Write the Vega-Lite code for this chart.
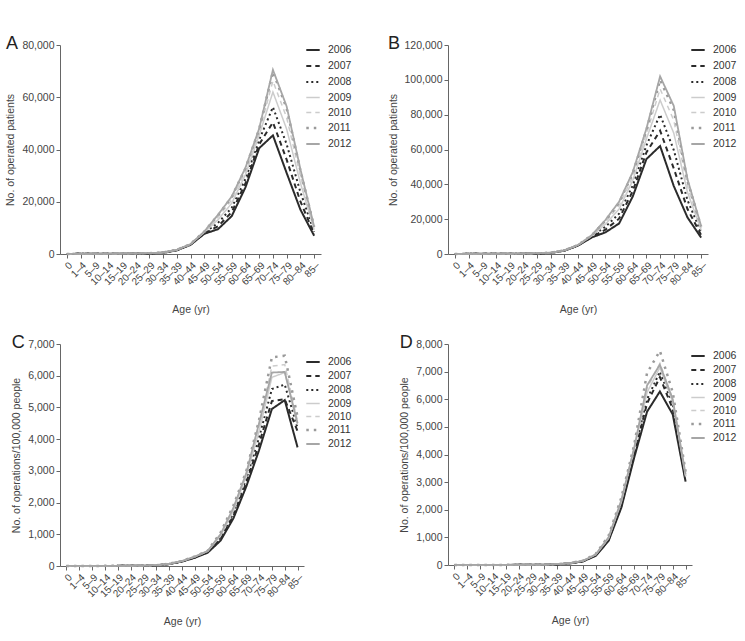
{
"$schema":"https://vega.github.io/schema/vega-lite/v6.json",
"padding":{"left":5,"top":35,"right":5,"bottom":5},
"background":"white",
"columns":2,
"spacing":{"row":18,"column":36},
"resolve":{"scale":{"color":"independent","strokeDash":"independent","strokeWidth":"independent","x":"independent","y":"independent"},"legend":{"color":"independent","strokeDash":"independent","strokeWidth":"independent"}},
"datasets":{"d":[
{"age":"0","year":"2006","A":30,"B":40,"C":2,"D":2},
{"age":"1–4","year":"2006","A":60,"B":80,"C":3,"D":2},
{"age":"5–9","year":"2006","A":50,"B":70,"C":2,"D":2},
{"age":"10–14","year":"2006","A":80,"B":110,"C":3,"D":3},
{"age":"15–19","year":"2006","A":130,"B":170,"C":4,"D":4},
{"age":"20–24","year":"2006","A":170,"B":220,"C":6,"D":5},
{"age":"25–29","year":"2006","A":250,"B":330,"C":10,"D":8},
{"age":"30–34","year":"2006","A":450,"B":600,"C":20,"D":12},
{"age":"35–39","year":"2006","A":1400,"B":1900,"C":60,"D":25},
{"age":"40–44","year":"2006","A":3500,"B":4800,"C":140,"D":60},
{"age":"45–49","year":"2006","A":7700,"B":9500,"C":260,"D":130},
{"age":"50–54","year":"2006","A":9500,"B":12400,"C":420,"D":330},
{"age":"55–59","year":"2006","A":14500,"B":17500,"C":800,"D":870},
{"age":"60–64","year":"2006","A":25500,"B":33000,"C":1500,"D":2080},
{"age":"65–69","year":"2006","A":40500,"B":54500,"C":2500,"D":3890},
{"age":"70–74","year":"2006","A":45400,"B":62000,"C":3650,"D":5550},
{"age":"75–79","year":"2006","A":31000,"B":39000,"C":4950,"D":6280},
{"age":"80–84","year":"2006","A":17000,"B":21000,"C":5230,"D":5450},
{"age":"85–","year":"2006","A":7000,"B":9400,"C":3740,"D":3020},
{"age":"0","year":"2007","A":32,"B":42,"C":2,"D":2},
{"age":"1–4","year":"2007","A":64,"B":84,"C":3,"D":2},
{"age":"5–9","year":"2007","A":54,"B":74,"C":2,"D":2},
{"age":"10–14","year":"2007","A":85,"B":116,"C":3,"D":3},
{"age":"15–19","year":"2007","A":135,"B":178,"C":4,"D":4},
{"age":"20–24","year":"2007","A":180,"B":232,"C":6,"D":5},
{"age":"25–29","year":"2007","A":260,"B":350,"C":10,"D":8},
{"age":"30–34","year":"2007","A":470,"B":630,"C":22,"D":12},
{"age":"35–39","year":"2007","A":1440,"B":1950,"C":62,"D":26},
{"age":"40–44","year":"2007","A":3560,"B":4880,"C":145,"D":62},
{"age":"45–49","year":"2007","A":7880,"B":9790,"C":270,"D":135},
{"age":"50–54","year":"2007","A":10600,"B":13960,"C":440,"D":345},
{"age":"55–59","year":"2007","A":16000,"B":20250,"C":850,"D":900},
{"age":"60–64","year":"2007","A":27000,"B":36080,"C":1580,"D":2150},
{"age":"65–69","year":"2007","A":42000,"B":58350,"C":2620,"D":4000},
{"age":"70–74","year":"2007","A":50400,"B":70800,"C":3850,"D":5850},
{"age":"75–79","year":"2007","A":36100,"B":49100,"C":5200,"D":6800},
{"age":"80–84","year":"2007","A":20100,"B":25840,"C":5260,"D":5650},
{"age":"85–","year":"2007","A":7700,"B":10850,"C":4250,"D":3100},
{"age":"0","year":"2008","A":34,"B":44,"C":2,"D":2},
{"age":"1–4","year":"2008","A":68,"B":88,"C":3,"D":2},
{"age":"5–9","year":"2008","A":58,"B":78,"C":2,"D":2},
{"age":"10–14","year":"2008","A":90,"B":122,"C":3,"D":3},
{"age":"15–19","year":"2008","A":142,"B":188,"C":4,"D":4},
{"age":"20–24","year":"2008","A":190,"B":245,"C":7,"D":5},
{"age":"25–29","year":"2008","A":280,"B":370,"C":11,"D":8},
{"age":"30–34","year":"2008","A":490,"B":660,"C":23,"D":13},
{"age":"35–39","year":"2008","A":1490,"B":2000,"C":64,"D":27},
{"age":"40–44","year":"2008","A":3630,"B":4970,"C":150,"D":64},
{"age":"45–49","year":"2008","A":8090,"B":10090,"C":280,"D":140},
{"age":"50–54","year":"2008","A":11870,"B":15600,"C":455,"D":360},
{"age":"55–59","year":"2008","A":17700,"B":23130,"C":900,"D":930},
{"age":"60–64","year":"2008","A":28700,"B":39300,"C":1660,"D":2220},
{"age":"65–69","year":"2008","A":43700,"B":62380,"C":2740,"D":4100},
{"age":"70–74","year":"2008","A":56200,"B":80000,"C":4050,"D":6000},
{"age":"75–79","year":"2008","A":42000,"B":59700,"C":5580,"D":7000},
{"age":"80–84","year":"2008","A":23700,"B":30900,"C":5720,"D":5800},
{"age":"85–","year":"2008","A":8500,"B":12370,"C":4350,"D":3150},
{"age":"0","year":"2009","A":36,"B":46,"C":3,"D":2},
{"age":"1–4","year":"2009","A":72,"B":92,"C":3,"D":3},
{"age":"5–9","year":"2009","A":62,"B":82,"C":2,"D":2},
{"age":"10–14","year":"2009","A":96,"B":128,"C":3,"D":3},
{"age":"15–19","year":"2009","A":150,"B":196,"C":5,"D":4},
{"age":"20–24","year":"2009","A":200,"B":258,"C":7,"D":6},
{"age":"25–29","year":"2009","A":290,"B":390,"C":11,"D":9},
{"age":"30–34","year":"2009","A":510,"B":690,"C":24,"D":13},
{"age":"35–39","year":"2009","A":1530,"B":2040,"C":66,"D":28},
{"age":"40–44","year":"2009","A":3700,"B":5060,"C":152,"D":66},
{"age":"45–49","year":"2009","A":8290,"B":10360,"C":290,"D":145},
{"age":"50–54","year":"2009","A":13100,"B":17090,"C":465,"D":370},
{"age":"55–59","year":"2009","A":19400,"B":25750,"C":950,"D":960},
{"age":"60–64","year":"2009","A":30400,"B":42240,"C":1740,"D":2280},
{"age":"65–69","year":"2009","A":45500,"B":66050,"C":2830,"D":4200},
{"age":"70–74","year":"2009","A":62000,"B":88400,"C":4250,"D":6250},
{"age":"75–79","year":"2009","A":47800,"B":69360,"C":5950,"D":7150},
{"age":"80–84","year":"2009","A":27200,"B":35520,"C":6100,"D":5900},
{"age":"85–","year":"2009","A":9300,"B":13760,"C":4450,"D":3200},
{"age":"0","year":"2010","A":38,"B":48,"C":3,"D":2},
{"age":"1–4","year":"2010","A":76,"B":96,"C":4,"D":3},
{"age":"5–9","year":"2010","A":66,"B":86,"C":3,"D":2},
{"age":"10–14","year":"2010","A":104,"B":134,"C":4,"D":3},
{"age":"15–19","year":"2010","A":160,"B":203,"C":5,"D":4},
{"age":"20–24","year":"2010","A":210,"B":268,"C":7,"D":6},
{"age":"25–29","year":"2010","A":305,"B":405,"C":12,"D":9},
{"age":"30–34","year":"2010","A":530,"B":720,"C":24,"D":14},
{"age":"35–39","year":"2010","A":1570,"B":2070,"C":68,"D":29},
{"age":"40–44","year":"2010","A":3750,"B":5130,"C":155,"D":68},
{"age":"45–49","year":"2010","A":8450,"B":10570,"C":295,"D":150},
{"age":"50–54","year":"2010","A":14100,"B":18220,"C":470,"D":380},
{"age":"55–59","year":"2010","A":20700,"B":27750,"C":990,"D":990},
{"age":"60–64","year":"2010","A":31700,"B":44480,"C":1800,"D":2330},
{"age":"65–69","year":"2010","A":46700,"B":68850,"C":2900,"D":4250},
{"age":"70–74","year":"2010","A":66200,"B":94800,"C":4400,"D":6400},
{"age":"75–79","year":"2010","A":52200,"B":76720,"C":6300,"D":7300},
{"age":"80–84","year":"2010","A":29900,"B":39040,"C":6350,"D":6000},
{"age":"85–","year":"2010","A":9900,"B":14810,"C":4550,"D":3250},
{"age":"0","year":"2011","A":40,"B":50,"C":3,"D":3},
{"age":"1–4","year":"2011","A":80,"B":100,"C":4,"D":3},
{"age":"5–9","year":"2011","A":70,"B":90,"C":3,"D":2},
{"age":"10–14","year":"2011","A":110,"B":140,"C":4,"D":3},
{"age":"15–19","year":"2011","A":168,"B":208,"C":5,"D":5},
{"age":"20–24","year":"2011","A":218,"B":276,"C":8,"D":6},
{"age":"25–29","year":"2011","A":318,"B":416,"C":12,"D":9},
{"age":"30–34","year":"2011","A":548,"B":742,"C":25,"D":14},
{"age":"35–39","year":"2011","A":1600,"B":2090,"C":70,"D":30},
{"age":"40–44","year":"2011","A":3790,"B":5180,"C":160,"D":70},
{"age":"45–49","year":"2011","A":8570,"B":10740,"C":300,"D":155},
{"age":"50–54","year":"2011","A":14800,"B":19150,"C":480,"D":395},
{"age":"55–59","year":"2011","A":21800,"B":29380,"C":1050,"D":1050},
{"age":"60–64","year":"2011","A":32800,"B":46300,"C":1900,"D":2440},
{"age":"65–69","year":"2011","A":47800,"B":71130,"C":2980,"D":4350},
{"age":"70–74","year":"2011","A":69800,"B":100000,"C":4600,"D":6950},
{"age":"75–79","year":"2011","A":55700,"B":82700,"C":6580,"D":7750},
{"age":"80–84","year":"2011","A":32000,"B":41900,"C":6630,"D":6250},
{"age":"85–","year":"2011","A":10400,"B":15670,"C":4700,"D":3380},
{"age":"0","year":"2012","A":40,"B":50,"C":3,"D":2},
{"age":"1–4","year":"2012","A":80,"B":100,"C":4,"D":3},
{"age":"5–9","year":"2012","A":70,"B":90,"C":3,"D":2},
{"age":"10–14","year":"2012","A":110,"B":140,"C":4,"D":3},
{"age":"15–19","year":"2012","A":170,"B":210,"C":5,"D":4},
{"age":"20–24","year":"2012","A":220,"B":280,"C":8,"D":6},
{"age":"25–29","year":"2012","A":320,"B":420,"C":12,"D":9},
{"age":"30–34","year":"2012","A":550,"B":750,"C":25,"D":14},
{"age":"35–39","year":"2012","A":1600,"B":2100,"C":70,"D":29},
{"age":"40–44","year":"2012","A":3800,"B":5200,"C":158,"D":68},
{"age":"45–49","year":"2012","A":8600,"B":10800,"C":298,"D":150},
{"age":"50–54","year":"2012","A":15000,"B":19500,"C":475,"D":385},
{"age":"55–59","year":"2012","A":22000,"B":30000,"C":1000,"D":1000},
{"age":"60–64","year":"2012","A":33000,"B":47000,"C":1830,"D":2350},
{"age":"65–69","year":"2012","A":48000,"B":72000,"C":2920,"D":4250},
{"age":"70–74","year":"2012","A":70500,"B":102000,"C":4500,"D":6500},
{"age":"75–79","year":"2012","A":56500,"B":85000,"C":6100,"D":7250},
{"age":"80–84","year":"2012","A":32500,"B":43000,"C":6120,"D":6000},
{"age":"85–","year":"2012","A":10500,"B":16000,"C":4500,"D":3280}
]},
"concat":[
{"width":261,"height":209,"data":{"name":"d"},
 "title":{"text":"A","anchor":"start","frame":"bounds","fontSize":18,"fontWeight":"normal","color":"#222","offset":0,"dy":13},
 "mark":{"type":"line"},
 "encoding":{
  "x":{"field":"age","type":"ordinal","scale":{"type":"point","domain":["0","1–4","5–9","10–14","15–19","20–24","25–29","30–34","35–39","40–44","45–49","50–54","55–59","60–64","65–69","70–74","75–79","80–84","85–"]},"axis":{"title":"Age (yr)","labelAngle":-45,"titlePadding":18}},
  "y":{"field":"A","type":"quantitative","scale":{"domain":[0,80000],"nice":false},"axis":{"title":"No. of operated patients","values":[0,20000,40000,60000,80000],"format":",d"}},
  "color":{"field":"year","type":"nominal","scale":{"domain":["2006","2007","2008","2009","2010","2011","2012"],"range":["#2b2b2b","#2b2b2b","#2b2b2b","#cccccc","#cccccc","#9a9a9a","#a6a6a6"]},"legend":{"orient":"none","legendX":245,"legendY":-3,"title":null,"symbolType":"stroke","symbolSize":180,"labelFontSize":10.5,"labelColor":"#333","rowPadding":2,"labelOffset":7}},
  "strokeDash":{"field":"year","type":"nominal","scale":{"domain":["2006","2007","2008","2009","2010","2011","2012"],"range":[[1,0],[5,4],[2,3],[1,0],[5,4],[2.5,5],[1,0]]},"legend":{"orient":"none","legendX":245,"legendY":-3,"title":null,"symbolType":"stroke","symbolSize":180,"labelFontSize":10.5,"labelColor":"#333","rowPadding":2,"labelOffset":7}},
  "strokeWidth":{"field":"year","type":"nominal","scale":{"type":"ordinal","domain":["2006","2007","2008","2009","2010","2011","2012"],"range":[2,2,2,1.5,1.5,2.5,1.8]},"legend":{"orient":"none","legendX":245,"legendY":-3,"title":null,"symbolType":"stroke","symbolSize":180,"labelFontSize":10.5,"labelColor":"#333","rowPadding":2,"labelOffset":7}}
 }},
{"width":260,"height":209,"data":{"name":"d"},
 "title":{"text":"B","anchor":"start","frame":"bounds","fontSize":18,"fontWeight":"normal","color":"#222","offset":0,"dy":13},
 "mark":{"type":"line"},
 "encoding":{
  "x":{"field":"age","type":"ordinal","scale":{"type":"point","domain":["0","1–4","5–9","10–14","15–19","20–24","25–29","30–34","35–39","40–44","45–49","50–54","55–59","60–64","65–69","70–74","75–79","80–84","85–"]},"axis":{"title":"Age (yr)","labelAngle":-45,"titlePadding":18}},
  "y":{"field":"B","type":"quantitative","scale":{"domain":[0,120000],"nice":false},"axis":{"title":"No. of operated patients","values":[0,20000,40000,60000,80000,100000,120000],"format":",d"}},
  "color":{"field":"year","type":"nominal","scale":{"domain":["2006","2007","2008","2009","2010","2011","2012"],"range":["#2b2b2b","#2b2b2b","#2b2b2b","#cccccc","#cccccc","#9a9a9a","#a6a6a6"]},"legend":{"orient":"none","legendX":242,"legendY":-3,"title":null,"symbolType":"stroke","symbolSize":180,"labelFontSize":10.5,"labelColor":"#333","rowPadding":2,"labelOffset":7}},
  "strokeDash":{"field":"year","type":"nominal","scale":{"domain":["2006","2007","2008","2009","2010","2011","2012"],"range":[[1,0],[5,4],[2,3],[1,0],[5,4],[2.5,5],[1,0]]},"legend":{"orient":"none","legendX":242,"legendY":-3,"title":null,"symbolType":"stroke","symbolSize":180,"labelFontSize":10.5,"labelColor":"#333","rowPadding":2,"labelOffset":7}},
  "strokeWidth":{"field":"year","type":"nominal","scale":{"type":"ordinal","domain":["2006","2007","2008","2009","2010","2011","2012"],"range":[2,2,2,1.5,1.5,2.5,1.8]},"legend":{"orient":"none","legendX":242,"legendY":-3,"title":null,"symbolType":"stroke","symbolSize":180,"labelFontSize":10.5,"labelColor":"#333","rowPadding":2,"labelOffset":7}}
 }},
{"width":244,"height":222,"data":{"name":"d"},
 "title":{"text":"C","anchor":"start","frame":"bounds","fontSize":18,"fontWeight":"normal","color":"#222","offset":0,"dy":13},
 "mark":{"type":"line"},
 "encoding":{
  "x":{"field":"age","type":"ordinal","scale":{"type":"point","domain":["0","1–4","5–9","10–14","15–19","20–24","25–29","30–34","35–39","40–44","45–49","50–54","55–59","60–64","65–69","70–74","75–79","80–84","85–"]},"axis":{"title":"Age (yr)","labelAngle":-45,"titlePadding":18}},
  "y":{"field":"C","type":"quantitative","scale":{"domain":[0,7000],"nice":false},"axis":{"title":"No. of operations/100,000 people","values":[0,1000,2000,3000,4000,5000,6000,7000],"format":",d"}},
  "color":{"field":"year","type":"nominal","scale":{"domain":["2006","2007","2008","2009","2010","2011","2012"],"range":["#2b2b2b","#2b2b2b","#2b2b2b","#cccccc","#cccccc","#9a9a9a","#a6a6a6"]},"legend":{"orient":"none","legendX":245,"legendY":10,"title":null,"symbolType":"stroke","symbolSize":180,"labelFontSize":10.5,"labelColor":"#333","rowPadding":0,"labelOffset":7}},
  "strokeDash":{"field":"year","type":"nominal","scale":{"domain":["2006","2007","2008","2009","2010","2011","2012"],"range":[[1,0],[5,4],[2,3],[1,0],[5,4],[2.5,5],[1,0]]},"legend":{"orient":"none","legendX":245,"legendY":10,"title":null,"symbolType":"stroke","symbolSize":180,"labelFontSize":10.5,"labelColor":"#333","rowPadding":0,"labelOffset":7}},
  "strokeWidth":{"field":"year","type":"nominal","scale":{"type":"ordinal","domain":["2006","2007","2008","2009","2010","2011","2012"],"range":[2,2,2,1.5,1.5,2.5,1.8]},"legend":{"orient":"none","legendX":245,"legendY":10,"title":null,"symbolType":"stroke","symbolSize":180,"labelFontSize":10.5,"labelColor":"#333","rowPadding":0,"labelOffset":7}}
 }},
{"width":244,"height":221,"data":{"name":"d"},
 "title":{"text":"D","anchor":"start","frame":"bounds","fontSize":18,"fontWeight":"normal","color":"#222","offset":0,"dy":13},
 "mark":{"type":"line"},
 "encoding":{
  "x":{"field":"age","type":"ordinal","scale":{"type":"point","domain":["0","1–4","5–9","10–14","15–19","20–24","25–29","30–34","35–39","40–44","45–49","50–54","55–59","60–64","65–69","70–74","75–79","80–84","85–"]},"axis":{"title":"Age (yr)","labelAngle":-45,"titlePadding":18}},
  "y":{"field":"D","type":"quantitative","scale":{"domain":[0,8000],"nice":false},"axis":{"title":"No. of operations/100,000 people","values":[0,1000,2000,3000,4000,5000,6000,7000,8000],"format":",d"}},
  "color":{"field":"year","type":"nominal","scale":{"domain":["2006","2007","2008","2009","2010","2011","2012"],"range":["#2b2b2b","#2b2b2b","#2b2b2b","#cccccc","#cccccc","#9a9a9a","#a6a6a6"]},"legend":{"orient":"none","legendX":242,"legendY":4,"title":null,"symbolType":"stroke","symbolSize":180,"labelFontSize":10.5,"labelColor":"#333","rowPadding":0,"labelOffset":7}},
  "strokeDash":{"field":"year","type":"nominal","scale":{"domain":["2006","2007","2008","2009","2010","2011","2012"],"range":[[1,0],[5,4],[2,3],[1,0],[5,4],[2.5,5],[1,0]]},"legend":{"orient":"none","legendX":242,"legendY":4,"title":null,"symbolType":"stroke","symbolSize":180,"labelFontSize":10.5,"labelColor":"#333","rowPadding":0,"labelOffset":7}},
  "strokeWidth":{"field":"year","type":"nominal","scale":{"type":"ordinal","domain":["2006","2007","2008","2009","2010","2011","2012"],"range":[2,2,2,1.5,1.5,2.5,1.8]},"legend":{"orient":"none","legendX":242,"legendY":4,"title":null,"symbolType":"stroke","symbolSize":180,"labelFontSize":10.5,"labelColor":"#333","rowPadding":0,"labelOffset":7}}
 }}
],
"config":{
 "font":"Liberation Sans",
 "view":{"stroke":null},
 "axis":{"domainColor":"#666","tickColor":"#666","labelColor":"#444","titleColor":"#444","labelFontSize":10,"titleFontSize":10.5,"titleFontWeight":"normal","grid":false,"tickSize":4,"labelPadding":2},
 "axisY":{"labelFontSize":10.5,"titlePadding":6},
 "line":{"strokeJoin":"miter"}
}
}
